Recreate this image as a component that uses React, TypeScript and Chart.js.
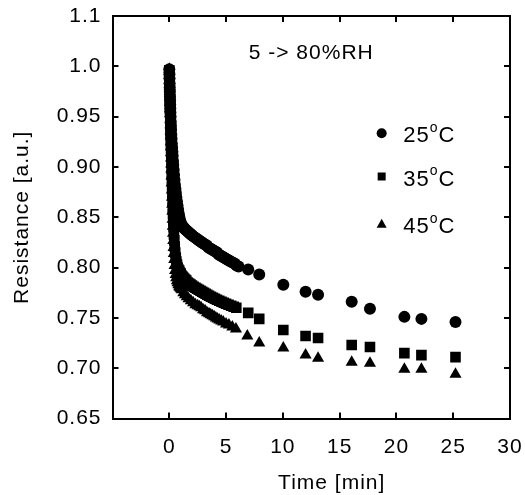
import React, { useEffect, useRef } from 'react';
import { Chart, registerables } from 'chart.js';

Chart.register(...registerables);

// ---- Data (time in min, resistance in a.u.) ----
const T25 = [0, 0.01, 0.02, 0.03, 0.04, 0.05, 0.06, 0.07, 0.08, 0.09, 0.1, 0.115, 0.13, 0.145, 0.16, 0.18, 0.2, 0.225, 0.25, 0.275, 0.3, 0.33, 0.35, 0.39, 0.42, 0.46, 0.5, 0.54, 0.58, 0.62, 0.67, 0.72, 0.77, 0.82, 0.87, 0.92, 0.97, 1.03, 1.1, 1.18, 1.25, 1.32, 1.4, 1.5, 1.6, 1.7, 1.8, 1.9, 2.0, 2.12, 2.25, 2.37, 2.5, 2.62, 2.75, 2.87, 3.0, 3.15, 3.3, 3.45, 3.6, 3.75, 3.9, 4.05, 4.2, 4.35, 4.5, 4.65, 4.8, 4.95, 5.1, 5.25, 5.4, 5.57, 5.75, 5.92, 6.1, 6.95, 7.92, 10.04, 12.0, 13.1, 16.06, 17.67, 20.7, 22.2, 25.2];
const R25 = [0.997, 0.992, 0.988, 0.983, 0.979, 0.975, 0.970, 0.966, 0.962, 0.958, 0.954, 0.950, 0.945, 0.941, 0.937, 0.932, 0.928, 0.923, 0.919, 0.915, 0.911, 0.906, 0.902, 0.897, 0.892, 0.887, 0.882, 0.878, 0.874, 0.870, 0.866, 0.862, 0.858, 0.854, 0.851, 0.848, 0.846, 0.844, 0.842, 0.841, 0.840, 0.839, 0.838, 0.837, 0.836, 0.835, 0.834, 0.833, 0.832, 0.831, 0.830, 0.829, 0.828, 0.827, 0.826, 0.825, 0.824, 0.823, 0.822, 0.820, 0.819, 0.818, 0.817, 0.816, 0.815, 0.813, 0.812, 0.811, 0.810, 0.809, 0.808, 0.807, 0.806, 0.805, 0.804, 0.802, 0.801, 0.798, 0.793, 0.783, 0.776, 0.773, 0.766, 0.759, 0.751, 0.749, 0.746];

const T35 = [0, 0.01, 0.02, 0.03, 0.04, 0.05, 0.06, 0.07, 0.08, 0.09, 0.1, 0.11, 0.12, 0.13, 0.14, 0.15, 0.16, 0.175, 0.19, 0.205, 0.22, 0.235, 0.25, 0.27, 0.29, 0.31, 0.33, 0.355, 0.38, 0.41, 0.44, 0.48, 0.52, 0.57, 0.62, 0.68, 0.74, 0.8, 0.87, 0.93, 1.0, 1.07, 1.15, 1.22, 1.3, 1.4, 1.5, 1.62, 1.75, 1.87, 2.0, 2.15, 2.3, 2.45, 2.6, 2.75, 2.9, 3.05, 3.2, 3.35, 3.5, 3.67, 3.85, 4.02, 4.2, 4.4, 4.6, 4.8, 5.0, 5.22, 5.45, 5.67, 5.9, 6.95, 7.92, 10.04, 12.0, 13.1, 16.06, 17.67, 20.7, 22.2, 25.2];
const R35 = [0.996, 0.991, 0.986, 0.981, 0.976, 0.971, 0.966, 0.961, 0.956, 0.951, 0.946, 0.941, 0.936, 0.931, 0.926, 0.921, 0.916, 0.910, 0.904, 0.898, 0.892, 0.886, 0.880, 0.873, 0.866, 0.859, 0.853, 0.846, 0.840, 0.833, 0.827, 0.821, 0.815, 0.810, 0.806, 0.803, 0.800, 0.798, 0.797, 0.795, 0.794, 0.792, 0.791, 0.790, 0.789, 0.788, 0.787, 0.785, 0.784, 0.783, 0.782, 0.781, 0.780, 0.779, 0.778, 0.777, 0.776, 0.775, 0.774, 0.773, 0.772, 0.771, 0.770, 0.769, 0.768, 0.767, 0.766, 0.765, 0.764, 0.763, 0.762, 0.761, 0.760, 0.755, 0.749, 0.738, 0.732, 0.730, 0.723, 0.721, 0.715, 0.713, 0.711];

const T45 = [0, 0.01, 0.02, 0.03, 0.04, 0.05, 0.06, 0.07, 0.08, 0.09, 0.1, 0.11, 0.12, 0.13, 0.14, 0.15, 0.16, 0.17, 0.18, 0.195, 0.21, 0.225, 0.24, 0.255, 0.27, 0.29, 0.31, 0.33, 0.35, 0.375, 0.4, 0.435, 0.47, 0.51, 0.56, 0.61, 0.67, 0.73, 0.8, 0.87, 0.95, 1.02, 1.1, 1.24, 1.38, 1.54, 1.7, 1.9, 2.1, 2.3, 2.5, 2.65, 2.8, 2.97, 3.15, 3.32, 3.5, 3.65, 3.8, 3.95, 4.1, 4.25, 4.4, 4.57, 4.75, 5.0, 5.25, 5.55, 5.87, 6.87, 7.92, 10.04, 12.0, 13.1, 16.06, 17.67, 20.7, 22.2, 25.2];
const R45 = [0.997, 0.991, 0.986, 0.980, 0.975, 0.969, 0.964, 0.958, 0.953, 0.947, 0.942, 0.936, 0.931, 0.925, 0.920, 0.914, 0.909, 0.903, 0.898, 0.891, 0.884, 0.877, 0.870, 0.863, 0.856, 0.848, 0.841, 0.834, 0.827, 0.820, 0.814, 0.808, 0.802, 0.797, 0.793, 0.790, 0.787, 0.785, 0.783, 0.781, 0.780, 0.779, 0.778, 0.775, 0.773, 0.771, 0.769, 0.767, 0.765, 0.763, 0.762, 0.761, 0.760, 0.758, 0.757, 0.755, 0.754, 0.753, 0.752, 0.751, 0.750, 0.749, 0.748, 0.747, 0.746, 0.744, 0.743, 0.741, 0.739, 0.732, 0.725, 0.720, 0.713, 0.710, 0.706, 0.705, 0.699, 0.699, 0.694];

const SERIES_TEMPS = ['25', '35', '45'];
const SERIES_STYLES = ['circle', 'rect', 'triangle'];
const X_MIN = -5;
const X_MAX = 30;
const X_STEP = 5;
const Y_MIN = 0.65;
const Y_MAX = 1.05;
const Y_STEP = 0.05;
const ANNOTATION = '5 -> 80%RH';
const X_TITLE = 'Time [min]';
const Y_TITLE = 'Resistance [a.u.]';

const FONT = "'Liberation Sans', Arial, Helvetica, sans-serif";
const FS = 21;
const LS = '1px';
const TICK_IN = -6;

const toPoints = (ts: number[], rs: number[]) => ts.map((t, i) => ({ x: t, y: rs[i] }));

const textPlugin = {
  id: 'textPlugin',
  beforeDraw(chart: any) {
    try { chart.ctx.letterSpacing = LS; } catch (e) { /* ignore */ }
  },
  afterDraw(chart: any) {
    const ctx = chart.ctx;
    const xs = chart.scales.x;
    const ys = chart.scales.y;
    ctx.save();
    ctx.fillStyle = '#000000';
    ctx.textBaseline = 'middle';
    try { ctx.letterSpacing = LS; } catch (e) { /* ignore */ }
    ctx.font = `${FS}px ${FONT}`;
    ctx.textAlign = 'center';
    ctx.fillText(ANNOTATION, xs.getPixelForValue(12.5), ys.getPixelForValue(1.0127));
    ctx.fillText(X_TITLE, xs.getPixelForValue(14.3), 483);

    // legend
    const legX = xs.getPixelForValue(18.7);
    const txtX = xs.getPixelForValue(20.6);
    const rowVals = [0.9335, 0.8905, 0.8435];
    SERIES_TEMPS.forEach((temp, i) => {
      const cy = ys.getPixelForValue(rowVals[i]);
      ctx.beginPath();
      if (SERIES_STYLES[i] === 'circle') {
        ctx.arc(legX, cy, 5, 0, Math.PI * 2);
      } else if (SERIES_STYLES[i] === 'rect') {
        ctx.rect(legX - 4, cy - 4, 8, 8);
      } else {
        ctx.moveTo(legX, cy - 5);
        ctx.lineTo(legX + 5, cy + 4);
        ctx.lineTo(legX - 5, cy + 4);
        ctx.closePath();
      }
      ctx.fill();
      const ty = cy + 3;
      ctx.textAlign = 'left';
      ctx.font = `${FS + 1}px ${FONT}`;
      ctx.fillText(temp, txtX, ty);
      let x = txtX + ctx.measureText(temp).width;
      ctx.font = `14px ${FONT}`;
      ctx.fillText('o', x, ty - 8);
      x += ctx.measureText('o').width;
      ctx.font = `${FS + 1}px ${FONT}`;
      ctx.fillText('C', x, ty);
    });
    ctx.restore();
  },
};

const axisGrid = {
  display: true,
  drawOnChartArea: false,
  drawTicks: true,
  tickLength: TICK_IN,
  tickWidth: 2,
  tickColor: '#000',
  color: '#000',
  lineWidth: 2,
};
const axisBorder = { display: true, color: '#000', width: 2 };

export default function App() {
  const ref = useRef<HTMLCanvasElement | null>(null);
  useEffect(() => {
    if (!ref.current) return;
    const mk = (ts: number[], rs: number[], style: string, r: number) => ({
      data: toPoints(ts, rs),
      pointStyle: style,
      pointRadius: r,
      pointBackgroundColor: '#000',
      pointBorderColor: '#000',
      pointBorderWidth: 0,
      showLine: false,
    });
    const chart = new Chart(ref.current, {
      type: 'scatter',
      data: {
        datasets: [
          mk(T25, R25, 'circle', 6),
          mk(T35, R35, 'rect', 7.5),
          mk(T45, R45, 'triangle', 7),
        ],
      },
      options: {
        responsive: false,
        animation: false,
        events: [],
        layout: { padding: { top: 16, right: 15, left: 0, bottom: 0 } },
        plugins: { legend: { display: false }, tooltip: { enabled: false } },
        scales: {
          x: {
            type: 'linear',
            position: 'bottom',
            min: X_MIN,
            max: X_MAX,
            grid: axisGrid,
            border: axisBorder,
            ticks: {
              stepSize: X_STEP,
              autoSkip: false,
              maxRotation: 0,
              padding: 22.5,
              color: '#000',
              font: { family: FONT, size: FS },
              callback: (v: any) => (v < 0 ? '' : String(v)),
            },
            afterFit: (s: any) => { s.height = 76.5; s.paddingLeft = 0; s.paddingRight = 0; },
          },
          x2: {
            type: 'linear',
            position: 'top',
            min: X_MIN,
            max: X_MAX,
            grid: axisGrid,
            border: axisBorder,
            ticks: { stepSize: X_STEP, display: false },
            afterFit: (s: any) => { s.height = 0; s.paddingLeft = 0; s.paddingRight = 0; },
          },
          y: {
            type: 'linear',
            position: 'left',
            min: Y_MIN,
            max: Y_MAX,
            grid: axisGrid,
            border: axisBorder,
            title: {
              display: true,
              text: Y_TITLE,
              color: '#000',
              font: { family: FONT, size: FS },
              padding: { top: 10, bottom: 0 },
            },
            ticks: {
              stepSize: Y_STEP,
              padding: 17,
              color: '#000',
              font: { family: FONT, size: FS },
              callback: (v: any) => {
                const r = Math.round(v * 100);
                if (r === 105) return '1.1';
                if (r === 100) return '1.0';
                return (r / 100).toFixed(2);
              },
            },
            afterFit: (s: any) => { s.width = 112.5; s.paddingTop = 0; s.paddingBottom = 0; },
          },
          y2: {
            type: 'linear',
            position: 'right',
            min: Y_MIN,
            max: Y_MAX,
            grid: axisGrid,
            border: axisBorder,
            ticks: { stepSize: Y_STEP, display: false },
            afterFit: (s: any) => { s.width = 0; s.paddingTop = 0; s.paddingBottom = 0; },
          },
        },
      },
      plugins: [textPlugin],
    });
    return () => chart.destroy();
  }, []);
  return (
    <div style={{ position: 'absolute', left: 0, top: 0, width: 525, height: 495, background: '#fff' }}>
      <canvas ref={ref} width={525} height={495} style={{ display: 'block' }} />
    </div>
  );
}
